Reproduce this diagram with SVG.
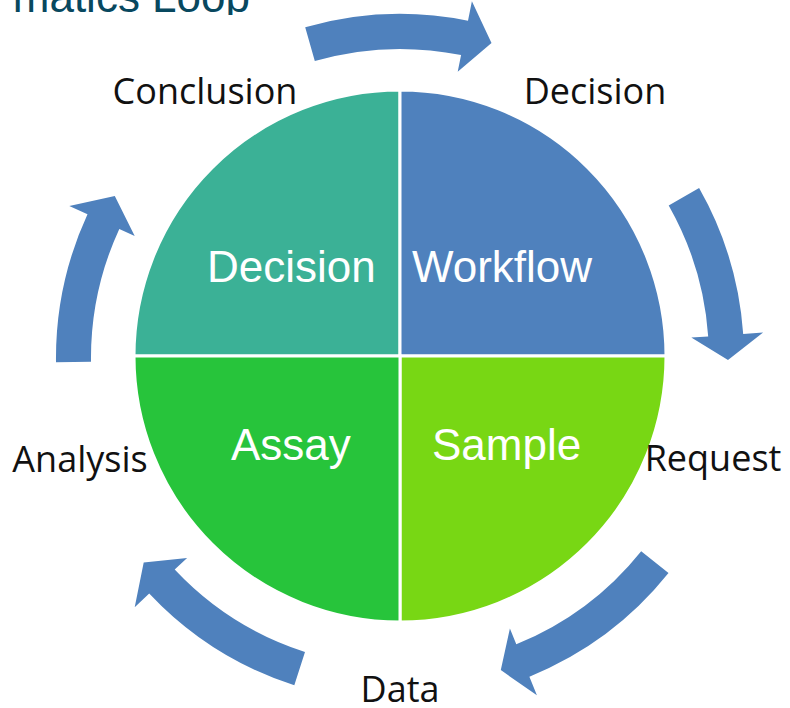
<svg xmlns="http://www.w3.org/2000/svg" width="790" height="708" viewBox="0 0 790 708">
<style>
.q{stroke:#fff;stroke-width:3;stroke-linejoin:miter}
.ql{font-family:"Liberation Sans",Arial,sans-serif;font-size:44px;fill:#fff}
.lb{font-family:"Open Sans","Noto Sans",sans-serif;font-size:36px;fill:#111;text-anchor:middle}
.ar{fill:#4F81BD}
</style>
<defs>
<clipPath id="tc"><rect x="0" y="0" width="320" height="15"/></clipPath>
</defs>
<rect width="790" height="708" fill="#fff"/>
<g id="title" clip-path="url(#tc)">
<text x="250" y="12" text-anchor="end" font-family="Liberation Sans,Arial,sans-serif" font-size="44" fill="#08485F">matics Loop</text>
</g>
<g id="q-decision">
<path class="q" fill="#3BB196" d="M400,356 L134,356 A266,266 0 0 1 400,90 Z"/>
<text class="ql" x="207" y="282">Decision</text>
</g>
<g id="q-workflow">
<path class="q" fill="#4F81BD" d="M400,356 L400,90 A266,266 0 0 1 666,356 Z"/>
<text class="ql" x="412" y="282">Workflow</text>
</g>
<g id="q-sample">
<path class="q" fill="#78D714" d="M400,356 L666,356 A266,266 0 0 1 400,622 Z"/>
<text class="ql" x="432" y="460">Sample</text>
</g>
<g id="q-assay">
<path class="q" fill="#27C43B" d="M400,356 L400,622 A266,266 0 0 1 134,356 Z"/>
<text class="ql" x="231" y="460">Assay</text>
</g>
<g id="connectors">
<path class="ar" d="M305.2,27.3 A344,344 0 0 1 468.0,20.8 L471.9,1.2 L491.5,43.0 L457.7,71.8 L461.1,55.1 A309,309 0 0 0 314.8,61.0 Z"/>
<path class="ar" d="M699.1,188.1 A344,344 0 0 1 743.2,334.0 L763.1,332.6 L728.0,360.0 L691.3,337.6 L708.2,336.4 A309,309 0 0 0 668.7,205.4 Z"/>
<path class="ar" d="M668.5,573.1 A344,344 0 0 1 529.4,676.7 L536.9,695.3 L500.8,670.1 L509.9,628.5 L516.3,644.3 A309,309 0 0 0 641.2,551.2 Z"/>
<path class="ar" d="M294.3,685.3 A344,344 0 0 1 149.2,593.5 L134.7,607.2 L143.7,562.6 L187.1,557.9 L174.7,569.5 A309,309 0 0 0 305.0,652.0 Z"/>
<path class="ar" d="M56.0,362.2 A344,344 0 0 1 87.5,214.3 L69.3,205.9 L114.8,196.0 L134.7,236.0 L119.3,228.9 A309,309 0 0 0 91.0,361.8 Z"/>
</g>
<g id="l-conclusion"><text class="lb" x="205" y="104">Conclusion</text></g>
<g id="l-decision"><text class="lb" x="595" y="104">Decision</text></g>
<g id="l-request"><text class="lb" x="713" y="471">Request</text></g>
<g id="l-data"><text class="lb" x="400" y="702">Data</text></g>
<g id="l-analysis"><text class="lb" x="80" y="472">Analysis</text></g>
</svg>
